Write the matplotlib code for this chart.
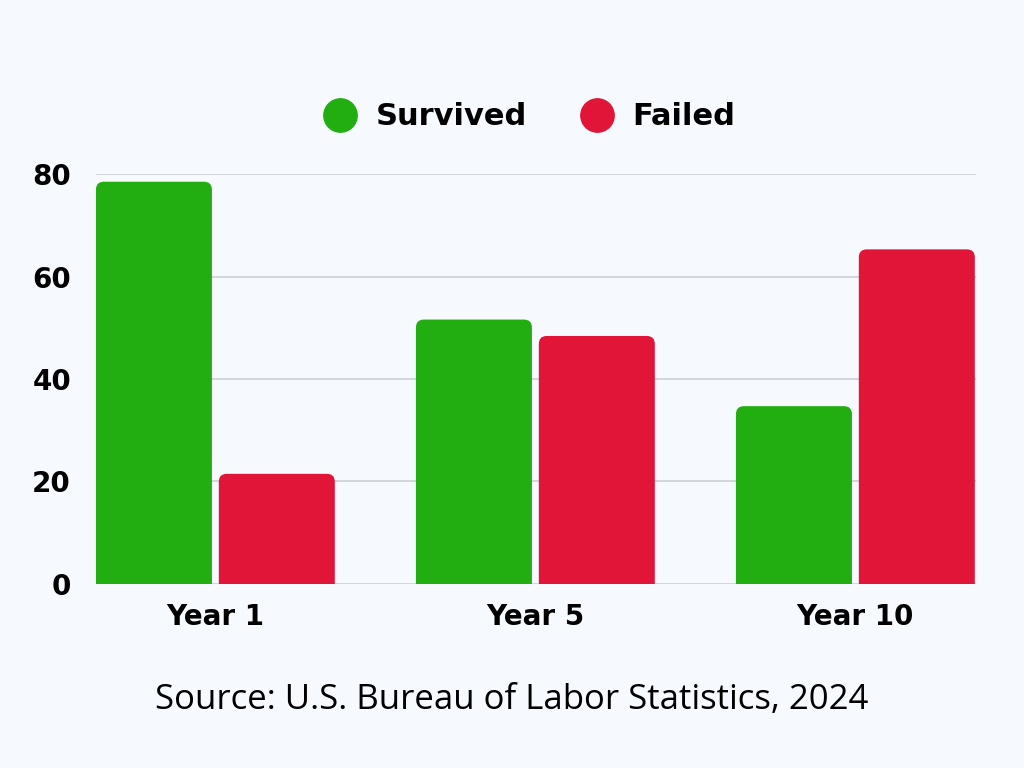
import matplotlib.pyplot as plt
from matplotlib.patches import FancyBboxPatch
from matplotlib.lines import Line2D
import numpy as np

# data
years = ['Year 1', 'Year 5', 'Year 10']
survived = [78.5, 51.6, 34.7]
failed = [21.5, 48.4, 65.3]

bg = '#F6FAFE'
green = '#22AD10'
red = '#E01537'

plt.rcParams['font.family'] = ['DejaVu Sans']

fig = plt.figure(figsize=(10.24, 7.68), dpi=100, facecolor=bg)
ax = fig.add_axes([0.09375, 0.2396, 0.8594, 0.5338], facecolor=bg)

x = np.arange(len(years))
w = 0.3625
off = 0.192

ax.set_xlim(-0.373, 2.377)
ax.set_ylim(0, 80)

# rounded-top bars: radius in data units (x) and aspect to y
r = 0.025
aspect = 62.4
for vals, dx, col in [(survived, -off, green), (failed, off, red)]:
    bars = ax.bar(x + dx, vals, width=w, color='none')
    for b in bars:
        bx, bh = b.get_x(), b.get_height()
        p = FancyBboxPatch((bx, -5), w, bh + 5,
                           boxstyle=f'round,pad=0,rounding_size={r}',
                           mutation_aspect=aspect, facecolor=col,
                           edgecolor='none', zorder=3)
        ax.add_patch(p)

ax.set_yticks([0, 20, 40, 60, 80])
ax.yaxis.grid(True, color='#CDD1D5', linewidth=1.2)
ax.set_axisbelow(True)
for s in ax.spines.values():
    s.set_visible(False)
ax.tick_params(axis='both', length=0, labelsize=20)
ax.tick_params(axis='y', pad=18)
ax.tick_params(axis='x', pad=14)
ax.set_xticks(x)
ax.set_xticklabels(years, fontweight='bold')
for t in ax.get_yticklabels():
    t.set_fontweight('bold')

handles = [Line2D([], [], marker='o', linestyle='none', markersize=24,
                  color=green, label='Survived'),
           Line2D([], [], marker='o', linestyle='none', markersize=24,
                  color=red, label='Failed')]
leg = fig.legend(handles=handles, loc='center', bbox_to_anchor=(0.510, 0.848),
                 ncol=2, frameon=False, handletextpad=0.15,
                 columnspacing=1.3, prop={'weight': 'bold', 'size': 22})

fig.text(0.5, 0.088, 'Source: U.S. Bureau of Labor Statistics, 2024',
         ha='center', va='center', fontsize=25, family='Open Sans')

fig.savefig('out.png', dpi=100, facecolor=bg)
